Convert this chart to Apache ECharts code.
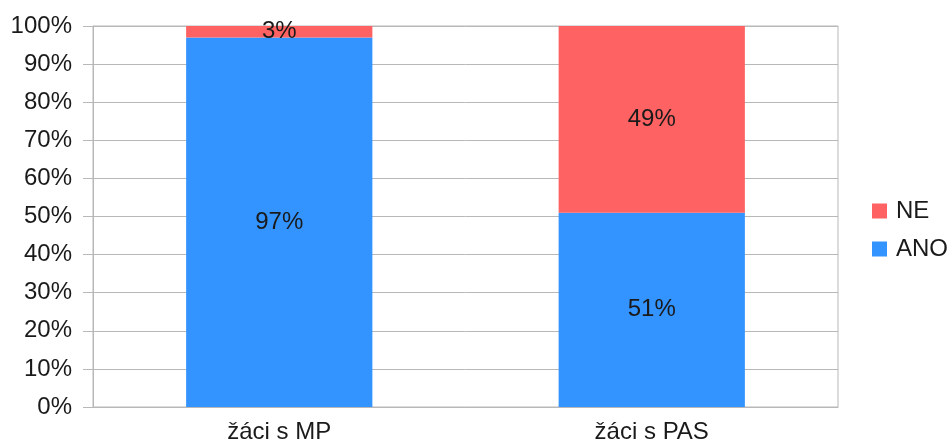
<!DOCTYPE html>
<html>
<head>
<meta charset="utf-8">
<script src="https://cdn.jsdelivr.net/npm/echarts@6/dist/echarts.min.js"></script>
<style>
  html, body { margin: 0; padding: 0; background: #fff; }
  #chart { width: 950px; height: 439px; }
</style>
</head>
<body>
<div id="chart"></div>
<script>
const categories = ["žáci s MP", "žáci s PAS"];
const anoValues = [97, 51];
const neValues = [3, 49];
const yTicks = [0, 10, 20, 30, 40, 50, 60, 70, 80, 90, 100];

const gridColor = "#b8b8b8";
const textFont = "Liberation Sans, Arial, sans-serif";

let myChart = echarts.init(document.getElementById("chart"));

let option = {
    animation: false,
    color: ["#3394ff", "#ff6262"],
    textStyle: { fontFamily: textFont },
    grid: {
        left: 93,
        right: 112,
        top: 26,
        bottom: 32,
        outerBoundsMode: "none",
        containLabel: false,
        show: true,
        borderColor: gridColor,
        borderWidth: 1,
    },
    legend: {
        orient: "vertical",
        left: 867,
        top: 194,
        icon: "rect",
        itemWidth: 15,
        itemHeight: 15,
        itemGap: 14,
        data: ["NE", "ANO"],
        textStyle: { fontSize: 24, color: "#1a1a1a", fontFamily: textFont, padding: [0, 0, 0, 4] },
    },
    xAxis: {
        type: "category",
        data: categories,
        axisLine: { lineStyle: { color: gridColor } },
        axisTick: { show: false },
        axisLabel: { fontSize: 24, color: "#1a1a1a", margin: 13, fontFamily: textFont },
        splitLine: { show: false },
    },
    yAxis: {
        type: "value",
        min: yTicks[0],
        max: yTicks[yTicks.length - 1],
        interval: yTicks[1] - yTicks[0],
        axisLine: { show: true, lineStyle: { color: gridColor } },
        axisTick: { show: true, length: 10, lineStyle: { color: gridColor } },
        axisLabel: { fontSize: 24, color: "#1a1a1a", margin: 21, formatter: "{value}%", fontFamily: textFont },
        splitLine: { lineStyle: { color: gridColor } },
    },
    series: [
        {
            name: "ANO",
            type: "bar",
            stack: "total",
            barWidth: "50%",
            data: anoValues,
            label: { show: true, position: "inside", formatter: "{c}%", fontSize: 24, color: "#1a1a1a", fontFamily: textFont },
        },
        {
            name: "NE",
            type: "bar",
            stack: "total",
            barWidth: "50%",
            data: neValues,
            label: { show: true, position: "inside", formatter: "{c}%", fontSize: 24, color: "#1a1a1a", fontFamily: textFont },
        },
    ],
};

myChart.setOption(option);
window.addEventListener("resize", function () {
    myChart.resize();
});
</script>
</body>
</html>
